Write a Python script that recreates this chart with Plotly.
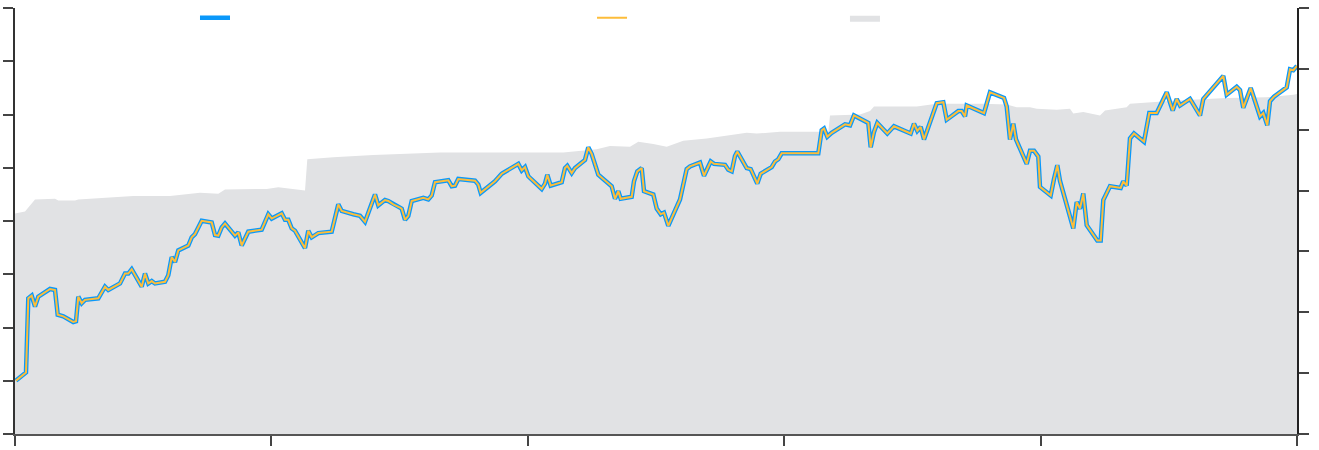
import plotly.graph_objects as go

# Chart units: x 0..1282 (5 intervals), y 0..431 (left: 8 intervals, right: 7 intervals)
line_x = [1, 11, 13.3, 16.7, 20, 23.3, 35, 40, 42.7, 48.3, 58.3, 61, 63.3, 66.7, 70, 83.3, 90, 93.3, 105, 110,
          113.3, 116.7, 126.7, 130, 133.3, 136.7, 140, 150, 153.3, 156.7, 160, 163.3, 173.3, 176.7, 180, 186.7, 196.7, 200, 203.3, 206.7,
          210, 220, 223.3, 226.7, 233.3, 246.7, 253.3, 256.7, 266.7, 270, 273.3, 276.7, 280, 290, 293.3, 296.7, 303.3, 316.7, 323.3, 326.7,
          338.3, 345, 350, 360, 363.3, 370, 373.3, 378.3, 385, 386.7, 390, 393.3, 396.7, 408.3, 413.3, 416.7, 420, 433.3, 436.7, 440,
          443.3, 460, 463.3, 465.7, 480, 486.7, 503.3, 506.7, 510, 513.3, 526.7, 530, 532.3, 535.7, 546.7, 550, 552.3, 556.7, 560, 570,
          573.3, 576.7, 583.3, 596.7, 600, 603.3, 605.7, 616.7, 619, 622.3, 626.7, 629, 638.3, 641.7, 645.7, 649, 653.3, 665, 671.7, 675,
          685, 689, 695.7, 699, 710, 713.3, 716.7, 720, 722.3, 731.7, 735.7, 742.3, 745.7, 756.7, 760, 763.3, 766.7, 783.3, 803.3, 806.7,
          809, 812.3, 816.7, 830, 835, 839, 853.3, 855.7, 859, 862.3, 872.3, 879, 895.7, 899, 902.3, 905.7, 909, 921.7, 928.3, 931.7,
          943.3, 946.7, 950, 951.7, 969, 975, 989, 991.7, 995, 998.3, 1001, 1011.7, 1015, 1019, 1023.3, 1025, 1035.7, 1039, 1042.3, 1045,
          1058.3, 1061.7, 1065, 1068.3, 1071.7, 1082.3, 1085.7, 1088.3, 1095, 1105.7, 1108.3, 1111.7, 1115, 1119, 1129, 1134.3, 1141.7, 1151.7, 1157.7, 1161.7,
          1165, 1175, 1185, 1188.3, 1208.3, 1211.7, 1221.7, 1225, 1228.3, 1235.7, 1245, 1248.3, 1252.3, 1255, 1259, 1271.7, 1275, 1278.3, 1282]
line_y = [54, 62.3, 137.3, 140, 129, 139, 146.7, 145.7, 120.7, 119, 113.3, 114, 139, 132.3, 135.7, 137.3, 149, 145.7, 152.3, 162.3,
          162.3, 166.7, 149, 162.3, 152.3, 154.7, 152.3, 154, 160.7, 179, 174, 185.7, 190.7, 199, 202.3, 215.7, 214, 201.3, 200.7, 209,
          213, 200.7, 204, 190.7, 204.7, 206.7, 222.3, 218, 223.3, 216.7, 216.7, 208, 205.7, 188, 205.7, 199, 203.3, 204.7, 232.3, 225.7,
          222.3, 220.7, 214.7, 242.3, 231.3, 236.7, 235.7, 232.3, 229, 228, 216.7, 220.7, 235.7, 239, 237.3, 241.3, 254.7, 256.7, 250.7, 251.3,
          258, 256.3, 252.3, 244, 255.7, 263.3, 273.3, 266.7, 270, 260.7, 248, 253.3, 262.3, 251.3, 254.7, 269, 271.3, 264, 269, 277.3,
          290, 283.3, 262.3, 250.7, 238, 245.7, 238, 240, 255.7, 265.7, 269, 245.7, 242.3, 228, 222.3, 224, 210.7, 237.3, 268, 270.7,
          274.7, 261.3, 275.7, 273.3, 272.3, 267.3, 265.7, 281.3, 285.7, 269, 268, 253.3, 263.3, 270, 275.7, 278, 284, 284, 284, 307.3,
          309, 300.7, 304.7, 313.3, 312.3, 322.3, 314.7, 290, 305.7, 314.7, 304, 311.3, 304, 314, 306.7, 310.7, 298, 334.7, 335.7, 318,
          326.7, 326.7, 321.3, 332.3, 324.7, 345.7, 340, 331.3, 298, 314, 298, 273.3, 286.7, 286.7, 280.7, 250, 241.3, 258, 272, 256,
          208, 234.7, 228, 243.3, 211.3, 195.7, 195.7, 236.7, 250.7, 249, 255.7, 251.3, 299, 304, 295.7, 324.7, 324.7, 345.7, 327.3, 339,
          332.3, 339, 322.3, 339, 362.3, 343.3, 351.3, 348, 330, 350, 321.3, 324.7, 312.3, 336.7, 341.3, 350.7, 369, 368, 372.3]

area_x = [0, 10, 15, 20, 40, 43.3, 60, 63.3, 118.3, 155, 185, 203.3, 210, 238.3, 251.7, 263.3, 290, 292.3, 318.3, 358.3,
          385, 425, 481.7, 548.3, 581.7, 595, 615, 623.3, 638.3, 651.7, 668.3, 691.7, 731.7, 741.7, 765, 813.3, 815, 845, 855, 859,
          901.7, 921.7, 968.3, 991.7, 1001.7, 1015, 1021.7, 1041.7, 1055, 1058.3, 1068.3, 1078.3, 1085, 1090, 1111.7, 1115, 1135, 1161.7, 1211.7, 1251.7,
          1278.3, 1282]
area_y = [223, 225, 231.3, 237.3, 238, 236.3, 236.3, 237.3, 240.7, 240.7, 244, 243, 247.3, 247.3, 248, 249.7, 246.3, 278, 280, 282.3,
          283.3, 284.7, 284.7, 284.7, 288, 291.3, 290.7, 295.7, 293.3, 290.7, 296.7, 299, 304.7, 304, 305.7, 305.7, 322.3, 323.3, 326.7, 331.3,
          331.3, 334, 334, 333.3, 330.7, 330.7, 329, 328, 329, 324.3, 325.7, 323.3, 322.3, 327.3, 330.7, 334, 335.7, 337.3, 340, 340.7,
          343.3, 344]

BLUE = "rgb(10,152,250)"
ORANGE = "rgb(253,189,58)"
GRAY = "rgb(225,226,228)"

fig = go.Figure()
fig.add_trace(go.Scatter(x=area_x, y=area_y, mode="lines", fill="tozeroy", fillcolor=GRAY,
                         line=dict(width=0, color=GRAY), name="", legend="legend3", yaxis="y"))
fig.add_trace(go.Scatter(x=line_x, y=line_y, mode="lines", line=dict(color=BLUE, width=4.5),
                         name="", legend="legend", yaxis="y2"))
fig.add_trace(go.Scatter(x=line_x, y=line_y, mode="lines", line=dict(color=ORANGE, width=2),
                         name="", legend="legend2", yaxis="y2"))

axis_common = dict(showgrid=False, zeroline=False, showticklabels=False, ticks="outside",
                   ticklen=10, tickwidth=2, showline=True, linewidth=2, fixedrange=True)

leg = dict(orientation="h", yanchor="middle", y=0.977, xanchor="left", bgcolor="rgba(0,0,0,0)",
           borderwidth=0, font=dict(size=12, color="rgba(0,0,0,0)"))

fig.update_layout(
    width=1319, height=450,
    margin=dict(l=15, r=22, t=3, b=16),
    plot_bgcolor="white", paper_bgcolor="white",
    showlegend=True,
    legend=dict(leg, x=0.1404),
    legend2=dict(leg, x=0.4501),
    legend3=dict(leg, x=0.6474),
    xaxis=dict(axis_common, range=[0, 1282], tick0=0, dtick=256.4, linecolor="#555", tickcolor="#444"),
    yaxis=dict(axis_common, range=[0, 431], tick0=0, dtick=53.875, side="left", linecolor="#333", tickcolor="#444"),
    yaxis2=dict(axis_common, range=[0, 431], tick0=0, dtick=431 / 7, side="right", overlaying="y",
                linecolor="#222", tickcolor="#444"),
)

fig.write_html("out.html", config={"displayModeBar": False},
               post_script="document.body.style.margin='0';document.body.style.overflow='hidden';")
